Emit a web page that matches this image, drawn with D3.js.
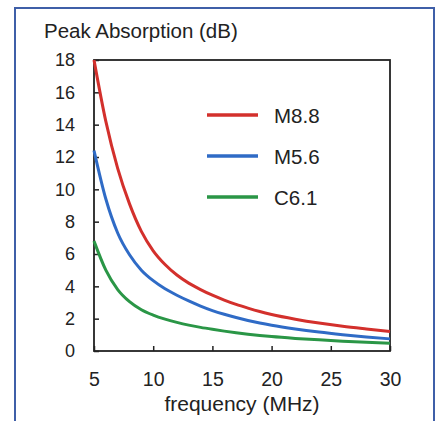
<!DOCTYPE html>
<html>
<head>
<meta charset="utf-8">
<script src="https://cdn.jsdelivr.net/npm/d3@7"></script>
<style>
  html, body { margin: 0; padding: 0; background: #ffffff; }
  svg { display: block; font-family: "Liberation Sans", Arial, Helvetica, sans-serif; }
</style>
</head>
<body>
<svg id="chart" width="438" height="421"></svg>
<script>
// Frequencies (MHz) at which the absorption curves are sampled
const frequency = [5, 6, 7, 8, 9, 10, 11, 12, 13, 14, 15, 16, 17, 18, 19, 20, 22, 24, 26, 28, 30];

// Peak absorption (dB) for each flare class
const m88 = [18, 14.2, 11.3, 9.1, 7.4, 6.2, 5.35, 4.7, 4.2, 3.8, 3.45, 3.15, 2.88, 2.65, 2.44, 2.26, 1.97, 1.73, 1.53, 1.36, 1.2];
const m56 = [12.4, 9.4, 7.3, 5.95, 5.0, 4.35, 3.85, 3.45, 3.1, 2.78, 2.5, 2.27, 2.07, 1.89, 1.73, 1.59, 1.36, 1.17, 1.01, 0.87, 0.75];
const c61 = [6.8, 5.0, 3.8, 3.05, 2.55, 2.22, 1.97, 1.77, 1.6, 1.46, 1.34, 1.23, 1.13, 1.04, 0.96, 0.89, 0.78, 0.69, 0.61, 0.54, 0.48];

const seriesNames = ["M8.8", "M5.6", "C6.1"];
const seriesColors = ["#d3302c", "#2f6bc6", "#2a9646"];

const xTicks = [5, 10, 15, 20, 25, 30];
const yTicks = [0, 2, 4, 6, 8, 10, 12, 14, 16, 18];

const series = [m88, m56, c61].map((vals, i) => ({
  name: seriesNames[i],
  color: seriesColors[i],
  points: frequency.map((f, j) => ({ f, v: vals[j] }))
}));

const svg = d3.select("#chart");

// Outer frame (open at the bottom)
svg.append("path")
  .attr("d", "M15,430 L15,8 L434,8 L434,430")
  .attr("fill", "none")
  .attr("stroke", "#3f5fa8")
  .attr("stroke-width", 2);

const plot = { left: 94, right: 390, top: 60, bottom: 351 };

const x = d3.scaleLinear().domain([5, 30]).range([plot.left, plot.right]);
const y = d3.scaleLinear().domain([0, 18]).range([plot.bottom, plot.top]);

// Plot box
svg.append("rect")
  .attr("x", plot.left).attr("y", plot.top)
  .attr("width", plot.right - plot.left).attr("height", plot.bottom - plot.top)
  .attr("fill", "none").attr("stroke", "#222").attr("stroke-width", 1.8);

// Left axis: inward ticks, labels outside
const yAxis = d3.axisLeft(y).tickValues(yTicks).tickSize(-5).tickPadding(19).tickFormat(d3.format("d"));
const gy = svg.append("g").attr("transform", `translate(${plot.left},0)`).call(yAxis);
gy.select(".domain").remove();
gy.selectAll(".tick line").attr("stroke", "#222").attr("stroke-width", 1.5);
gy.selectAll(".tick text").attr("font-size", 18).attr("fill", "#222");

// Bottom axis: inward ticks, labels below
const xAxis = d3.axisBottom(x).tickValues(xTicks).tickSize(-5).tickPadding(21).tickFormat(d3.format("d"));
const gx = svg.append("g").attr("transform", `translate(0,${plot.bottom})`).call(xAxis);
gx.select(".domain").remove();
gx.selectAll(".tick line").attr("stroke", "#222").attr("stroke-width", 1.5);
gx.selectAll(".tick text").attr("font-size", 19.5).attr("fill", "#222");

// Axis titles
svg.append("text")
  .attr("x", 44).attr("y", 38)
  .attr("font-size", 20.5).attr("fill", "#222")
  .text("Peak Absorption (dB)");

svg.append("text")
  .attr("x", 242).attr("y", 411)
  .attr("text-anchor", "middle")
  .attr("font-size", 21).attr("fill", "#222")
  .text("frequency (MHz)");

// Curves
const line = d3.line()
  .x(d => x(d.f))
  .y(d => y(d.v))
  .curve(d3.curveMonotoneX);

svg.append("g").selectAll("path")
  .data(series)
  .join("path")
  .attr("d", d => line(d.points))
  .attr("fill", "none")
  .attr("stroke", d => d.color)
  .attr("stroke-width", 3);

// Legend
const legend = svg.append("g").attr("transform", "translate(207,115)");
const items = legend.selectAll("g")
  .data(series)
  .join("g")
  .attr("transform", (d, i) => `translate(0,${i * 41})`);
items.append("line")
  .attr("x1", 0).attr("x2", 51)
  .attr("stroke", d => d.color).attr("stroke-width", 3.5);
items.append("text")
  .attr("x", 67).attr("y", 7.5)
  .attr("font-size", 20.5).attr("fill", "#222")
  .text(d => d.name);
</script>
</body>
</html>
